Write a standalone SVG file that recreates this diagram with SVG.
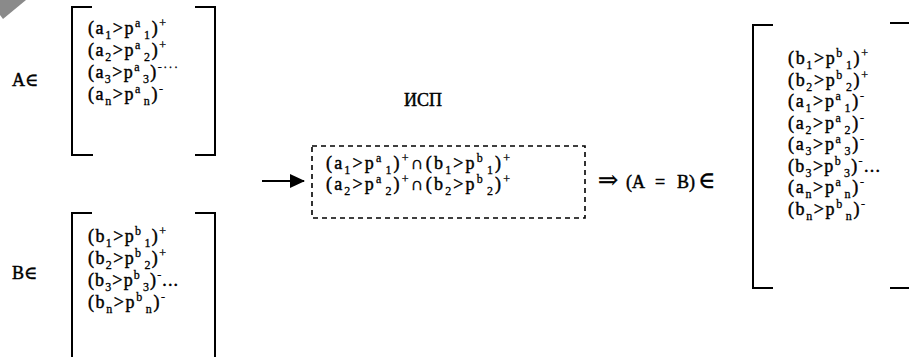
<svg xmlns="http://www.w3.org/2000/svg" width="909" height="357" viewBox="0 0 909 357">
<style>
text{font-family:"Liberation Serif","Times New Roman","DejaVu Serif",serif;font-size:18px;fill:#000;stroke:#000;stroke-width:0.45}
.s{font-size:12px;stroke-width:0.3}
.br{fill:none;stroke:#000;stroke-width:2}
.box{fill:none;stroke:#000;stroke-width:1.6;stroke-dasharray:5 4}
</style>
<defs>
<marker id="ah" markerWidth="15" markerHeight="14" refX="14" refY="7" orient="auto" markerUnits="userSpaceOnUse">
<path d="M0,0 L15,7 L0,14 Z" fill="#000"/>
</marker>
</defs>
<polygon points="0,0 26,0 3,19 0,15" fill="#8a8a8a"/>
<g id="setA">
<text x="12" y="86">A∈</text>
<path class="br" d="M92,7 H72 V155 H93 M195,7 H215 V155 H195"/>
<text x="88" y="34" textLength="78" lengthAdjust="spacing">(a<tspan class="s" dy="5">1</tspan><tspan dy="-5">&gt;p</tspan><tspan class="s" dy="-7">a</tspan><tspan class="s" dx="2" dy="12">1</tspan><tspan dy="-5">)</tspan><tspan class="s" dy="-7">+</tspan></text>
<text x="88" y="56" textLength="78" lengthAdjust="spacing">(a<tspan class="s" dy="5">2</tspan><tspan dy="-5">&gt;p</tspan><tspan class="s" dy="-7">a</tspan><tspan class="s" dx="2" dy="12">2</tspan><tspan dy="-5">)</tspan><tspan class="s" dy="-7">+</tspan></text>
<text x="88" y="78" textLength="90" lengthAdjust="spacing">(a<tspan class="s" dy="5">3</tspan><tspan dy="-5">&gt;p</tspan><tspan class="s" dy="-7">a</tspan><tspan class="s" dx="2" dy="12">3</tspan><tspan dy="-5">)</tspan><tspan class="s" dy="-7">-···</tspan></text>
<text x="88" y="100" textLength="75" lengthAdjust="spacing">(a<tspan class="s" dy="5">n</tspan><tspan dy="-5">&gt;p</tspan><tspan class="s" dy="-7">a</tspan><tspan class="s" dx="2" dy="12">n</tspan><tspan dy="-5">)</tspan><tspan class="s" dy="-7">-</tspan></text>
</g>
<g id="setB">
<text x="12" y="279">B∈</text>
<path class="br" d="M92,213 H72 V357 M195,213 H215 V357"/>
<text x="88" y="242" textLength="78" lengthAdjust="spacing">(b<tspan class="s" dy="5">1</tspan><tspan dy="-5">&gt;p</tspan><tspan class="s" dy="-7">b</tspan><tspan class="s" dx="2" dy="12">1</tspan><tspan dy="-5">)</tspan><tspan class="s" dy="-7">+</tspan></text>
<text x="88" y="264" textLength="78" lengthAdjust="spacing">(b<tspan class="s" dy="5">2</tspan><tspan dy="-5">&gt;p</tspan><tspan class="s" dy="-7">b</tspan><tspan class="s" dx="2" dy="12">2</tspan><tspan dy="-5">)</tspan><tspan class="s" dy="-7">+</tspan></text>
<text x="88" y="286" textLength="90" lengthAdjust="spacing">(b<tspan class="s" dy="5">3</tspan><tspan dy="-5">&gt;p</tspan><tspan class="s" dy="-7">b</tspan><tspan class="s" dx="2" dy="12">3</tspan><tspan dy="-5">)</tspan><tspan class="s" dy="-7">-</tspan><tspan dy="7">...</tspan></text>
<text x="88" y="308" textLength="77" lengthAdjust="spacing">(b<tspan class="s" dy="5">n</tspan><tspan dy="-5">&gt;p</tspan><tspan class="s" dy="-7">b</tspan><tspan class="s" dx="2" dy="12">n</tspan><tspan dy="-5">)</tspan><tspan class="s" dy="-7">-</tspan></text>
</g>
<g id="isp">
<text x="404" y="106">ИСП</text>
<rect class="box" x="312" y="146" width="273" height="72"/>
<text x="326" y="169" textLength="184" lengthAdjust="spacing">(a<tspan class="s" dy="5">1</tspan><tspan dy="-5">&gt;p</tspan><tspan class="s" dy="-7">a</tspan><tspan class="s" dx="2" dy="12">1</tspan><tspan dy="-5">)</tspan><tspan class="s" dy="-7">+</tspan><tspan dy="7">∩(b</tspan><tspan class="s" dy="5">1</tspan><tspan dy="-5">&gt;p</tspan><tspan class="s" dy="-7">b</tspan><tspan class="s" dx="2" dy="12">1</tspan><tspan dy="-5">)</tspan><tspan class="s" dy="-7">+</tspan></text>
<text x="326" y="190" textLength="184" lengthAdjust="spacing">(a<tspan class="s" dy="5">2</tspan><tspan dy="-5">&gt;p</tspan><tspan class="s" dy="-7">a</tspan><tspan class="s" dx="2" dy="12">2</tspan><tspan dy="-5">)</tspan><tspan class="s" dy="-7">+</tspan><tspan dy="7">∩(b</tspan><tspan class="s" dy="5">2</tspan><tspan dy="-5">&gt;p</tspan><tspan class="s" dy="-7">b</tspan><tspan class="s" dx="2" dy="12">2</tspan><tspan dy="-5">)</tspan><tspan class="s" dy="-7">+</tspan></text>
</g>
<g id="result">
<text y="188" font-size="20"><tspan x="598" font-size="24">⇒</tspan><tspan x="626">(A</tspan><tspan x="655">=</tspan><tspan x="677">B)</tspan><tspan x="698" font-size="23">∈</tspan></text>
<path class="br" d="M773,25 H753 V288 H773 M890,23 H909 M890,288 H909"/>
<text x="788" y="64" textLength="80" lengthAdjust="spacing">(b<tspan class="s" dy="5">1</tspan><tspan dy="-5">&gt;p</tspan><tspan class="s" dy="-7">b</tspan><tspan class="s" dx="2" dy="12">1</tspan><tspan dy="-5">)</tspan><tspan class="s" dy="-7">+</tspan></text>
<text x="788" y="86" textLength="80" lengthAdjust="spacing">(b<tspan class="s" dy="5">2</tspan><tspan dy="-5">&gt;p</tspan><tspan class="s" dy="-7">b</tspan><tspan class="s" dx="2" dy="12">2</tspan><tspan dy="-5">)</tspan><tspan class="s" dy="-7">+</tspan></text>
<text x="788" y="107" textLength="76" lengthAdjust="spacing">(a<tspan class="s" dy="5">1</tspan><tspan dy="-5">&gt;p</tspan><tspan class="s" dy="-7">a</tspan><tspan class="s" dx="2" dy="12">1</tspan><tspan dy="-5">)</tspan><tspan class="s" dy="-7">-</tspan></text>
<text x="788" y="129" textLength="76" lengthAdjust="spacing">(a<tspan class="s" dy="5">2</tspan><tspan dy="-5">&gt;p</tspan><tspan class="s" dy="-7">a</tspan><tspan class="s" dx="2" dy="12">2</tspan><tspan dy="-5">)</tspan><tspan class="s" dy="-7">-</tspan></text>
<text x="788" y="150" textLength="76" lengthAdjust="spacing">(a<tspan class="s" dy="5">3</tspan><tspan dy="-5">&gt;p</tspan><tspan class="s" dy="-7">a</tspan><tspan class="s" dx="2" dy="12">3</tspan><tspan dy="-5">)</tspan><tspan class="s" dy="-7">-</tspan></text>
<text x="788" y="172" textLength="92" lengthAdjust="spacing">(b<tspan class="s" dy="5">3</tspan><tspan dy="-5">&gt;p</tspan><tspan class="s" dy="-7">b</tspan><tspan class="s" dx="2" dy="12">3</tspan><tspan dy="-5">)</tspan><tspan class="s" dy="-7">-</tspan><tspan dy="7">...</tspan></text>
<text x="788" y="193" textLength="76" lengthAdjust="spacing">(a<tspan class="s" dy="5">n</tspan><tspan dy="-5">&gt;p</tspan><tspan class="s" dy="-7">a</tspan><tspan class="s" dx="2" dy="12">n</tspan><tspan dy="-5">)</tspan><tspan class="s" dy="-7">-</tspan></text>
<text x="788" y="215" textLength="77" lengthAdjust="spacing">(b<tspan class="s" dy="5">n</tspan><tspan dy="-5">&gt;p</tspan><tspan class="s" dy="-7">b</tspan><tspan class="s" dx="2" dy="12">n</tspan><tspan dy="-5">)</tspan><tspan class="s" dy="-7">-</tspan></text>
</g>
<g id="connectors">
<line x1="262" y1="181" x2="304" y2="181" stroke="#000" stroke-width="2.2" marker-end="url(#ah)"/>
</g>
</svg>
